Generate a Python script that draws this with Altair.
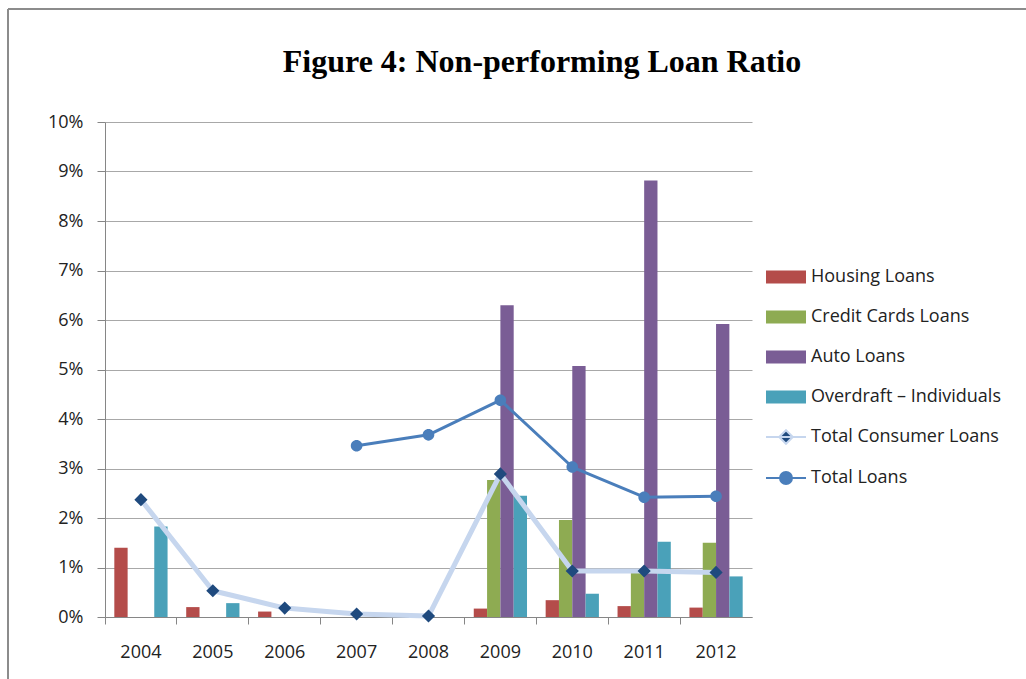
import altair as alt
import pandas as pd

# ---- data (percent) ----
years = ["2004", "2005", "2006", "2007", "2008", "2009", "2010", "2011", "2012"]
housing = [1.40, 0.20, 0.11, None, None, 0.17, 0.34, 0.22, 0.19]
credit = [None, None, None, None, None, 2.77, 1.96, 0.90, 1.50]
auto = [None, None, None, None, None, 6.30, 5.07, 8.82, 5.92]
overdraft = [1.83, 0.28, None, None, None, 2.45, 0.47, 1.52, 0.82]
consumer = [2.37, 0.53, 0.18, 0.06, 0.02, 2.89, 0.93, 0.93, 0.90]
total = [None, None, None, 3.46, 3.68, 4.38, 3.03, 2.42, 2.44]
y_ticks = list(range(0, 11))

bar_names = ["Housing Loans", "Credit Cards Loans", "Auto Loans", "Overdraft – Individuals"]
line_names = ["Total Consumer Loans", "Total Loans"]
all_names = bar_names + line_names
title_text = "Figure 4: Non-performing Loan Ratio"

# ---- styles ----
bar_colors = ["#b44c4a", "#8eab52", "#7a5d95", "#4aa1b9"]
fill_range = bar_colors + ["#1f4a7e", "#4a7ebb"]
stroke_range = bar_colors + ["#c6d6ee", "#4a7ebb"]
RECT = "M-0.95,-0.28H0.95V0.28H-0.95Z"
DIAMOND = "M-1,0H1M0,-0.34L0.34,0L0,0.34L-0.34,0Z"
CIRCLE = "M-1,0H1M0.3,0A0.3,0.3 0 1,1 -0.3,0A0.3,0.3 0 1,1 0.3,0Z"
shape_range = [RECT] * 4 + [DIAMOND, CIRCLE]
FONT = "Open Sans"

rows = []
for name, vals in zip(bar_names, [housing, credit, auto, overdraft]):
    for yr, v in zip(years, vals):
        if v is not None:
            rows.append({"year": yr, "series": name, "value": v})
bars_df = pd.DataFrame(rows)

rows = []
for name, vals in zip(line_names, [consumer, total]):
    for yr, v in zip(years, vals):
        if v is not None:
            rows.append({"year": yr, "series": name, "value": v})
lines_df = pd.DataFrame(rows)

fill_scale = alt.Scale(domain=all_names, range=fill_range)
stroke_scale = alt.Scale(domain=all_names, range=stroke_range)
shape_scale = alt.Scale(domain=all_names, range=shape_range)
x_scale = alt.Scale(domain=years, paddingInner=0, paddingOuter=0)
y_scale = alt.Scale(domain=[0, 10], nice=False)

x_enc = alt.X("year:O", scale=x_scale,
              axis=alt.Axis(title=None, labelAngle=0, bandPosition=0, grid=False))
y_enc = alt.Y("value:Q", scale=y_scale,
              axis=alt.Axis(title=None, values=y_ticks, labelExpr="datum.value + '%'", grid=True))

bars = alt.Chart(bars_df).mark_bar().encode(
    x=x_enc,
    xOffset=alt.XOffset("series:N", scale=alt.Scale(domain=bar_names, paddingInner=0, paddingOuter=0.7)),
    y=y_enc,
    fill=alt.Fill("series:N", scale=fill_scale, legend=alt.Legend(title=None)),
)

lines = alt.Chart(lines_df).mark_line(strokeJoin="round").encode(
    x=x_enc,
    y=y_enc,
    stroke=alt.Stroke("series:N", scale=stroke_scale, legend=alt.Legend(title=None)),
    strokeWidth=alt.condition(alt.datum.series == "Total Consumer Loans", alt.value(5), alt.value(3)),
)

points = alt.Chart(lines_df).mark_point(filled=True, size=1500, opacity=1, strokeWidth=0).encode(
    x=x_enc,
    y=y_enc,
    fill=alt.Fill("series:N", scale=fill_scale, legend=alt.Legend(title=None)),
    shape=alt.Shape("series:N", scale=shape_scale, legend=alt.Legend(title=None)),
)

one = alt.Data(values=[{"k": 0}])
border_top = alt.Chart(one).mark_rule(color="#8c8c8c", strokeWidth=2).encode(
    x=alt.value(-97), x2=alt.value(921), y=alt.value(-113))
border_left = alt.Chart(one).mark_rule(color="#8c8c8c", strokeWidth=2).encode(
    x=alt.value(-97), y=alt.value(-113), y2=alt.value(557))
title = alt.Chart(one).mark_text(font="Liberation Serif", fontSize=32, fontWeight="bold",
                                 color="black", align="center", baseline="middle").encode(
    x=alt.value(437), y=alt.value(-60), text=alt.value(title_text))

chart = alt.layer(bars, lines, points, border_top, border_left, title).properties(
    width=647, height=495,
    autosize=alt.AutoSizeParams(type="none"),
    padding={"left": 105, "top": 122, "right": 274, "bottom": 62},
    background="white",
).configure_view(stroke=None).configure_axis(
    domainColor="#868686", tickColor="#868686", labelFont=FONT, labelFontSize=18,
    labelColor="#222222", gridColor="#a8a8a8", domainWidth=1, tickWidth=1,
).configure_axisY(tickSize=8, labelPadding=14).configure_axisX(tickSize=7, labelPadding=19).configure_legend(
    orient="none", legendX=660, legendY=134, labelFont=FONT, labelFontSize=18, labelColor="#222222",
    symbolSize=1600, rowPadding=9, labelOffset=4, labelLimit=300, padding=0, symbolStrokeWidth=2,
)

chart.save("out.html", embed_options={"renderer": "svg", "actions": False})
